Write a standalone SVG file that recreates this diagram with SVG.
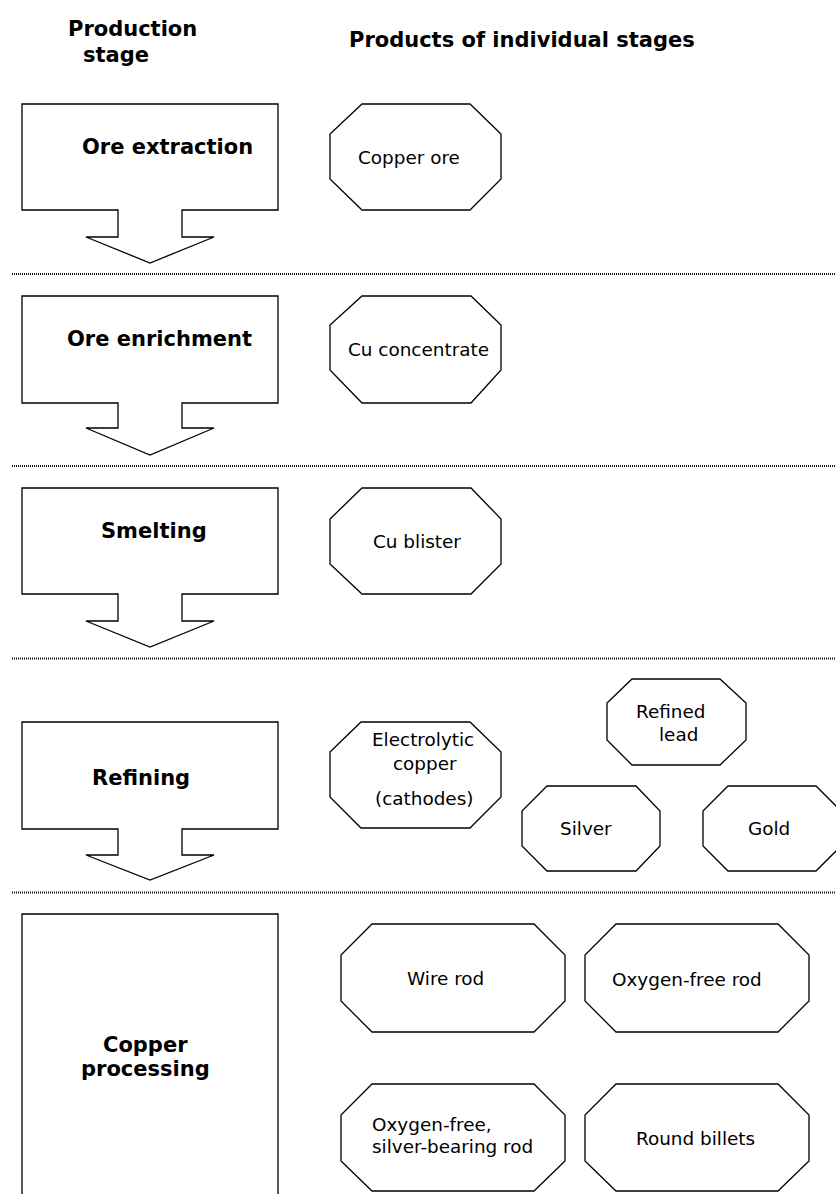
<svg xmlns="http://www.w3.org/2000/svg" width="836" height="1194" viewBox="0 0 836 1194">
<style>
.shape{fill:#fff;stroke:#000;stroke-width:1.3;stroke-linejoin:miter}
.sep{stroke:#111;stroke-width:2;stroke-dasharray:1 1;fill:none}
.hd{font-family:"DejaVu Sans",Verdana,sans-serif;font-weight:bold;font-size:21px;fill:#000}
.tx{font-family:"DejaVu Sans",Verdana,sans-serif;font-size:18.4px;fill:#000}
</style>
<rect width="836" height="1194" fill="#fff"/>
<g id="header">
<text class="hd" x="68" y="36">Production</text>
<text class="hd" x="83" y="62">stage</text>
<text class="hd" x="349" y="47">Products of individual stages</text>
</g>
<g id="separators">
<line class="sep" x1="12" y1="274" x2="836" y2="274"/>
<line class="sep" x1="12" y1="466" x2="836" y2="466"/>
<line class="sep" x1="12" y1="658.5" x2="836" y2="658.5"/>
<line class="sep" x1="12" y1="892.5" x2="836" y2="892.5"/>
</g>
<g id="stage-ore-extraction">
<path class="shape" d="M22,104 H278 V210 H182 V237 H214 L150,263 L86,237 H118 V210 H22 Z"/>
<text class="hd" x="82" y="154">Ore extraction</text>
</g>
<g id="stage-ore-enrichment">
<path class="shape" d="M22,296 H278 V403 H182 V428 H214 L150,455 L86,428 H118 V403 H22 Z"/>
<text class="hd" x="67" y="346">Ore enrichment</text>
</g>
<g id="stage-smelting">
<path class="shape" d="M22,488 H278 V594 H182 V621 H214 L150,647 L86,621 H118 V594 H22 Z"/>
<text class="hd" x="101" y="538">Smelting</text>
</g>
<g id="stage-refining">
<path class="shape" d="M22,722 H278 V829 H182 V855 H214 L150,880 L86,855 H118 V829 H22 Z"/>
<text class="hd" x="92" y="785">Refining</text>
</g>
<g id="stage-copper-processing">
<path class="shape" d="M22,1200 V914 H278 V1200"/>
<text class="hd" x="103" y="1052">Copper</text>
<text class="hd" x="81" y="1076">processing</text>
</g>
<g id="product-copper-ore">
<polygon class="shape" points="362,104 470,104 501,134 501,179 470,210 362,210 330,179 330,134"/>
<text class="tx" x="358" y="164">Copper ore</text>
</g>
<g id="product-cu-concentrate">
<polygon class="shape" points="362,296 471,296 501,325 501,370 471,403 362,403 330,370 330,325"/>
<text class="tx" x="348" y="356">Cu concentrate</text>
</g>
<g id="product-cu-blister">
<polygon class="shape" points="362,488 471,488 501,519 501,564 471,594 362,594 330,564 330,519"/>
<text class="tx" x="373" y="548">Cu blister</text>
</g>
<g id="product-electrolytic-copper">
<polygon class="shape" points="361,722 470,722 501,752 501,797 470,828 361,828 330,797 330,752"/>
<text class="tx" x="372" y="746">Electrolytic</text>
<text class="tx" x="393" y="770">copper</text>
<text class="tx" x="375" y="805">(cathodes)</text>
</g>
<g id="product-refined-lead">
<polygon class="shape" points="632,679 720,679 746,703 746,740 720,765 632,765 607,740 607,703"/>
<text class="tx" x="636" y="718">Refined</text>
<text class="tx" x="659" y="741">lead</text>
</g>
<g id="product-silver">
<polygon class="shape" points="547,786 636,786 660,811 660,846 636,871 547,871 522,846 522,811"/>
<text class="tx" x="560" y="835">Silver</text>
</g>
<g id="product-gold">
<polygon class="shape" points="728,786 816,786 841,811 841,846 816,871 728,871 703,846 703,811"/>
<text class="tx" x="748" y="835">Gold</text>
</g>
<g id="product-wire-rod">
<polygon class="shape" points="372,924 534,924 565,955 565,1001 534,1032 372,1032 341,1001 341,955"/>
<text class="tx" x="407" y="985">Wire rod</text>
</g>
<g id="product-oxygen-free-rod">
<polygon class="shape" points="616,924 778,924 809,955 809,1001 778,1032 616,1032 585,1001 585,955"/>
<text class="tx" x="612" y="986">Oxygen-free rod</text>
</g>
<g id="product-oxygen-free-silver-bearing-rod">
<polygon class="shape" points="372,1084 534,1084 565,1115 565,1161 534,1191 372,1191 341,1161 341,1115"/>
<text class="tx" x="372" y="1131">Oxygen-free,</text>
<text class="tx" x="372" y="1153">silver-bearing rod</text>
</g>
<g id="product-round-billets">
<polygon class="shape" points="616,1084 778,1084 809,1115 809,1161 778,1191 616,1191 585,1161 585,1115"/>
<text class="tx" x="636" y="1145">Round billets</text>
</g>
</svg>
